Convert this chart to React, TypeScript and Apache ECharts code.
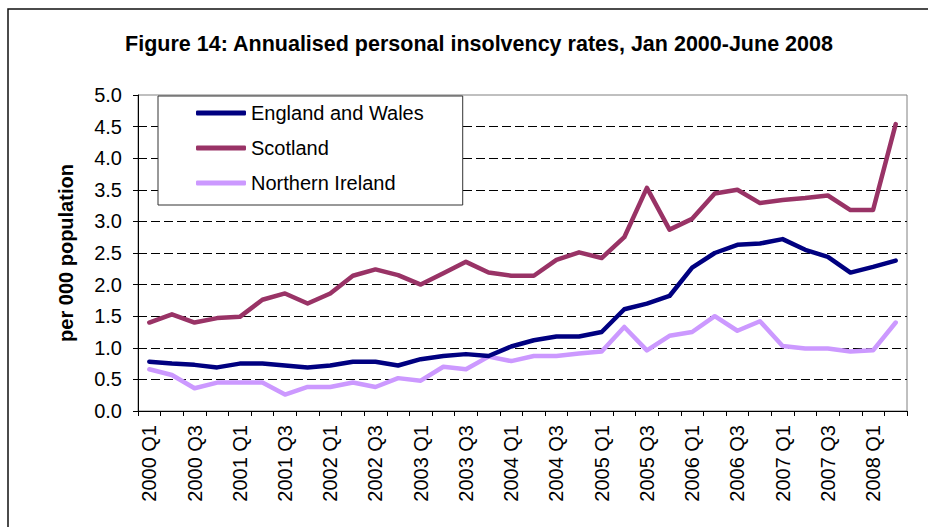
import React, { useEffect, useRef } from "react";
import * as echarts from "echarts";

const years = ["2000", "2001", "2002", "2003", "2004", "2005", "2006", "2007", "2008"];
const categories: string[] = [];
years.forEach((y) => {
  ["Q1", "Q2", "Q3", "Q4"].forEach((q) => {
    if (!(y === "2008" && (q === "Q3" || q === "Q4"))) categories.push(y + " " + q);
  });
});

const englandWales = [
  0.78, 0.75, 0.73, 0.69, 0.75, 0.75, 0.72, 0.69, 0.72, 0.78, 0.78, 0.72,
  0.82, 0.87, 0.9, 0.87, 1.02, 1.12, 1.18, 1.18, 1.25, 1.61, 1.7, 1.82,
  2.27, 2.5, 2.63, 2.65, 2.72, 2.55, 2.44, 2.19, 2.28, 2.38,
];
const scotland = [
  1.4, 1.53, 1.4, 1.47, 1.49, 1.76, 1.86, 1.7, 1.86, 2.14, 2.24, 2.15,
  2.0, 2.18, 2.36, 2.19, 2.14, 2.14, 2.39, 2.51, 2.42, 2.75, 3.53, 2.87,
  3.04, 3.44, 3.5, 3.29, 3.34, 3.37, 3.41, 3.18, 3.18, 4.54,
];
const northernIreland = [
  0.66, 0.57, 0.36, 0.45, 0.45, 0.45, 0.26, 0.38, 0.38, 0.45, 0.38, 0.52,
  0.48, 0.7, 0.66, 0.86, 0.79, 0.87, 0.87, 0.91, 0.94, 1.33, 0.96, 1.19,
  1.25, 1.5, 1.27, 1.42, 1.03, 0.99, 0.99, 0.94, 0.96, 1.4,
];

const FONT = "'Liberation Sans', Arial, sans-serif";

export default function App() {
  const ref = useRef<HTMLDivElement>(null);
  useEffect(() => {
    if (!ref.current) return;
    const chart = echarts.init(ref.current, undefined, { renderer: "svg" });
    chart.setOption({
      animation: false,
      backgroundColor: "#fff",
      textStyle: { fontFamily: FONT, color: "#000" },
      title: {
        text: "Figure 14: Annualised personal insolvency rates, Jan 2000-June 2008",
        left: 474,
        top: 28,
        textAlign: "center",
        textStyle: { fontFamily: FONT, fontSize: 21.5, fontWeight: "bold", color: "#000" },
      },
      graphic: [
        {
          type: "rect",
          shape: { x: 8, y: 9, width: 940, height: 540 },
          style: { fill: "none", stroke: "#111", lineWidth: 1.5 },
          silent: true,
          z: 100,
        },
      ],
      legend: {
        orient: "vertical",
        left: 158,
        top: 96,
        padding: [5, 39, 10, 38],
        itemGap: 11,
        itemWidth: 50,
        itemHeight: 5,
        icon: "roundRect",
        backgroundColor: "#fff",
        borderColor: "#333",
        borderWidth: 1,
        textStyle: { fontFamily: FONT, fontSize: 20, color: "#000", lineHeight: 24 },
        data: ["England and Wales", "Scotland", "Northern Ireland"],
      },
      grid: {
        left: 138,
        top: 95,
        right: 21,
        bottom: 116,
        show: true,
        borderColor: "#808080",
        borderWidth: 1,
        backgroundColor: "#fff",
      },
      xAxis: {
        type: "category",
        data: categories,
        boundaryGap: true,
        axisLine: { lineStyle: { color: "#000", width: 1 } },
        axisTick: { show: true, interval: 0, length: 5, lineStyle: { color: "#000" } },
        axisLabel: {
          interval: 1,
          rotate: 90,
          margin: 14,
          fontFamily: FONT,
          fontSize: 20,
          color: "#000",
        },
        splitLine: { show: false },
      },
      yAxis: {
        type: "value",
        min: 0,
        max: 5,
        interval: 0.5,
        name: "per 000 population",
        nameLocation: "middle",
        nameGap: 62,
        nameTextStyle: { fontFamily: FONT, fontSize: 20, fontWeight: "bold", color: "#000" },
        axisLine: { show: true, lineStyle: { color: "#000", width: 1 } },
        axisTick: { show: true, length: 5, lineStyle: { color: "#000" } },
        axisLabel: {
          margin: 16,
          fontFamily: FONT,
          fontSize: 20,
          color: "#000",
          formatter: (v: number) => v.toFixed(1),
        },
        splitLine: {
          show: true,
          showMinLine: false,
          showMaxLine: false,
          lineStyle: { color: "#000", width: 1, type: [9, 4] },
        },
      },
      series: [
        {
          name: "England and Wales",
          type: "line",
          data: englandWales,
          symbol: "none",
          color: "#000080",
          lineStyle: { width: 4.5, color: "#000080", cap: "round", join: "round" },
          z: 3,
        },
        {
          name: "Scotland",
          type: "line",
          data: scotland,
          symbol: "none",
          color: "#993366",
          lineStyle: { width: 4.5, color: "#993366", cap: "round", join: "round" },
          z: 2,
        },
        {
          name: "Northern Ireland",
          type: "line",
          data: northernIreland,
          symbol: "none",
          color: "#CC99FF",
          lineStyle: { width: 4.5, color: "#CC99FF", cap: "round", join: "round" },
          z: 1,
        },
      ],
    });
    return () => chart.dispose();
  }, []);
  return (
    <div
      ref={ref}
      style={{ position: "absolute", left: 0, top: 0, width: 928, height: 527 }}
    />
  );
}
